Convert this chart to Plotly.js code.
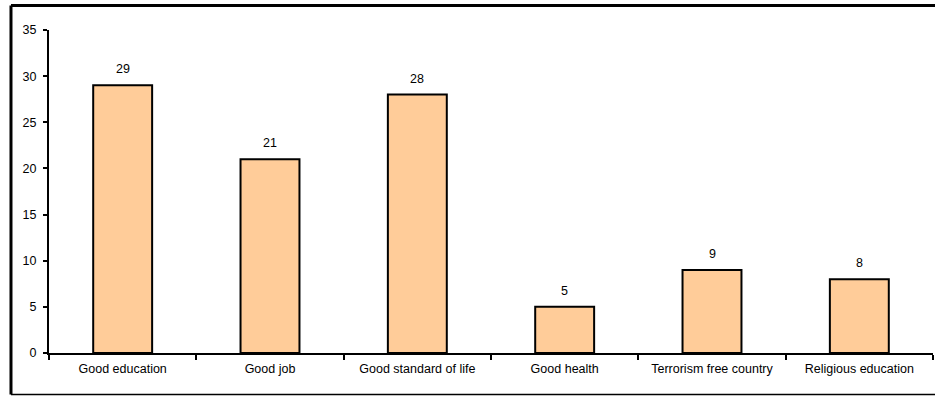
<!DOCTYPE html>
<html>
<head>
<meta charset="utf-8">
<script src="https://cdn.plot.ly/plotly-3.0.1.min.js"></script>
<style>
html,body{margin:0;padding:0;background:#fff;}
#chart{width:935px;height:396px;}
</style>
</head>
<body>
<div id="chart"></div>
<script>
const categories = ["Good education", "Good job", "Good standard of life", "Good health", "Terrorism free country", "Religious education"];
const values = [29, 21, 28, 5, 9, 8];
const yTicks = [0, 5, 10, 15, 20, 25, 30, 35];

const font = {family: "Liberation Sans, Arial, sans-serif", size: 12.5, color: "#000"};

const trace = {
  type: "bar",
  x: categories,
  y: values,
  marker: {color: "#FFCC99", line: {color: "#000", width: 2}},
  hoverinfo: "none"
};

const annotations = categories.map((c, i) => ({
  x: c, y: values[i], xref: "x", yref: "y",
  text: String(values[i]), showarrow: false,
  yanchor: "bottom", yshift: 7, font: font
}));

const layout = {
  width: 935, height: 396,
  margin: {l: 49, r: 2, t: 30, b: 43},
  paper_bgcolor: "#fff", plot_bgcolor: "#fff",
  bargap: 0.6,
  showlegend: false,
  font: font,
  xaxis: {
    showline: true, linecolor: "#000", linewidth: 2,
    ticks: "outside", ticklen: 5, tickwidth: 2, tickcolor: "#000",
    tickson: "boundaries",
    showgrid: false, zeroline: false,
    ticklabelstandoff: 3,
    tickfont: font, fixedrange: true
  },
  yaxis: {
    range: [0, 35],
    tickvals: yTicks,
    showline: true, linecolor: "#000", linewidth: 2,
    ticks: "outside", ticklen: 4, tickwidth: 2, tickcolor: "#000",
    showgrid: false, zeroline: false,
    ticklabelstandoff: 4,
    tickfont: font, fixedrange: true
  },
  annotations: annotations,
  shapes: [
    {type: "line", xref: "paper", yref: "paper", x0: -0.0430, x1: 1.01, y0: 1.0759, y1: 1.0759, line: {color: "#000", width: 3}},
    {type: "line", xref: "paper", yref: "paper", x0: -0.0430, x1: -0.0430, y0: 1.0759, y1: -0.1285, line: {color: "#000", width: 3}},
    {type: "line", xref: "paper", yref: "paper", x0: -0.0430, x1: 1.01, y0: -0.1285, y1: -0.1285, line: {color: "#000", width: 1.5}}
  ]
};

Plotly.newPlot("chart", [trace], layout, {displayModeBar: false, staticPlot: true});
</script>
</body>
</html>
